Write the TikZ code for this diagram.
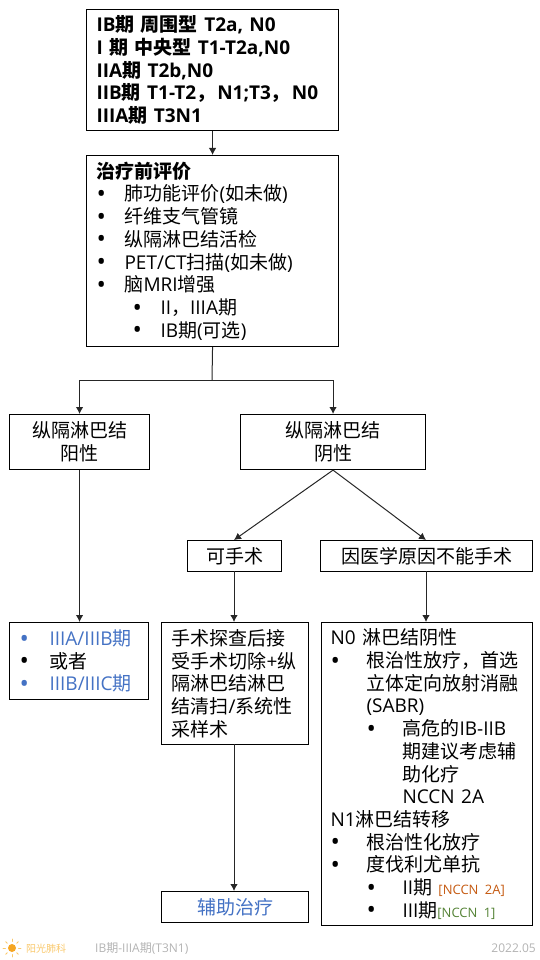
\documentclass[tikz,border=0pt]{standalone}
\usepackage{fontspec}
\setmainfont{Open Sans}
\newfontfamily\cjfont{Noto Sans CJK SC}
\newfontfamily\latfont{Open Sans}
\usetikzlibrary{arrows.meta}
\XeTeXinterchartokenstate=1
\newXeTeXintercharclass\cjclass
\newcount\cjcnt
\cjcnt="4E00
\loop\ifnum\cjcnt<"9FFF
  \XeTeXcharclass\cjcnt=\cjclass
  \advance\cjcnt by 1
\repeat
\XeTeXcharclass"FF0C=\cjclass
\XeTeXinterchartoks 0 \cjclass={\cjfont}
\XeTeXinterchartoks \cjclass 0={\latfont}
\XeTeXinterchartoks 4095 \cjclass={\cjfont}
\XeTeXinterchartoks \cjclass 4095={\latfont}
\definecolor{txtblue}{HTML}{4472C4}
\definecolor{nccnor}{HTML}{C55A11}
\definecolor{nccngr}{HTML}{548235}
\definecolor{footor}{HTML}{F9C86B}
\definecolor{sunor}{HTML}{F5A623}
\definecolor{footgr}{HTML}{B3B3B3}
\newcommand{\bigdot}{\raisebox{-1.6pt}{\fontsize{25}{25}\selectfont •}}
\newcommand{\bu}[3]{\makebox[#1pt][l]{\hspace{#2pt}\bigdot}#3}
\tikzset{
  x=1pt,y=-1pt,
  flowbox/.style={draw=black,line width=1.1pt,anchor=north west,inner sep=0pt,font=\fontsize{19}{22.7}\selectfont},
  lefttext/.style={flowbox,align=left},
  centertext/.style={flowbox,align=center},
  conn/.style={line width=1pt,draw=black!85},
  arr/.style={conn,-{Latex[length=7pt,width=7.5pt]}},
  foot/.style={inner sep=0pt,anchor=west,font=\fontsize{12}{14}\selectfont,text=footgr},
  ray/.style={line width=0.9pt,draw=footor,line cap=round}
}
\begin{document}
\begin{tikzpicture}
\useasboundingbox (0,0) rectangle (540,960);
\node[lefttext,minimum width=252pt,minimum height=121pt,text width=232pt] (stage) at (86,9)
 {\bfseries IB期 周围型 T2a, N0\\ I 期 中央型 T1-T2a,N0\\ IIA期 T2b,N0\\ IIB期 T1-T2，\kern2pt N1;T3，\kern2pt N0\\ IIIA期 T3N1};
\node[lefttext,minimum width=252pt,minimum height=191pt,text width=232pt] (eval) at (86,155)
 {\textbf{治疗前评价}\\
  \bu{28}{0}{肺功能评价(如未做)}\\
  \bu{28}{0}{纤维支气管镜}\\
  \bu{28}{0}{纵隔淋巴结活检}\\
  \bu{28}{0}{PET/CT扫描(如未做)}\\
  \bu{28}{0}{脑MRI增强}\\
  \hspace*{28pt}\bu{36}{8}{II，IIIA期}\\
  \hspace*{28pt}\bu{36}{8}{IB期(可选)}};
\node[centertext,minimum width=140pt,minimum height=55pt] (pos) at (9,414) {纵隔淋巴结\\阳性};
\node[centertext,minimum width=185pt,minimum height=55pt] (neg) at (240,414) {纵隔淋巴结\\阴性};
\node[centertext,minimum width=94pt,minimum height=31pt] (op) at (187,540) {可手术};
\node[centertext,minimum width=212pt,minimum height=31pt] (noop) at (320,540) {因医学原因不能手术};
\node[lefttext,minimum width=139pt,minimum height=77pt,text width=119pt] (iii) at (9,622)
 {{\color{txtblue}\bu{30}{0}{IIIA/IIIB期}}\\
  \bu{30}{0}{或者}\\
  {\color{txtblue}\bu{30}{0}{IIIB/IIIC期}}};
\node[lefttext,minimum width=147pt,minimum height=122pt,text width=127pt] (surg) at (161,622)
 {手术探查后接\\受手术切除+纵\\隔淋巴结淋巴\\结清扫/系统性\\采样术};
\node[lefttext,minimum width=211pt,minimum height=303pt,text width=193pt] (nonsurg) at (321,622)
 {N0 淋巴结阴性\\
  \bu{36}{0}{根治性放疗，首选}\\
  \hspace*{36pt}立体定向放射消融\\
  \hspace*{36pt}(SABR)\\
  \hspace*{36pt}\bu{36}{0}{高危的IB-IIB}\\
  \hspace*{72pt}期建议考虑辅\\
  \hspace*{72pt}助化疗\\
  \hspace*{72pt}NCCN 2A\\
  N1淋巴结转移\\
  \bu{36}{0}{根治性化放疗}\\
  \bu{36}{0}{度伐利尤单抗}\\
  \hspace*{36pt}\bu{36}{0}{II期 {\fontsize{13}{14}\selectfont\color{nccnor}[NCCN 2A]}}\\
  \hspace*{36pt}\bu{36}{0}{III期{\fontsize{13}{14}\selectfont\color{nccngr}[NCCN 1]}}};
\node[centertext,minimum width=147pt,minimum height=31pt,text=txtblue] (adj) at (161,891) {辅助治疗};
% connectors
\coordinate (jn) at (212,380);
\coordinate (opin) at (234,540);
\coordinate (noopin) at (426,540);
\coordinate (opout) at (234,571);
\coordinate (surgin) at (234,622);
\coordinate (noopout) at (426,571);
\coordinate (nsin) at (426,622);
\coordinate (surgout) at (234,744);
\coordinate (adjin) at (234,891);
\draw[arr] (stage.south) -- (eval.north);
\draw[conn] (eval.south) -- (jn);
\draw[arr] (jn) -| (pos.north);
\draw[arr] (jn) -| (neg.north);
\draw[arr] (pos.south) -- (pos.south |- iii.north);
\draw[arr] (neg.south) -- (opin);
\draw[arr] (neg.south) -- (noopin);
\draw[arr] (opout) -- (surgin);
\draw[arr] (noopout) -- (nsin);
\draw[arr] (surgout) -- (adjin);
% footer
\fill[sunor] (12,948) circle (4pt);
\foreach \a in {0,45,...,315}{\draw[ray] (12,948)++(\a:6.5) -- ++(\a:2.5);}
\node[foot,text=footor,font=\fontsize{10}{12}\selectfont] (brand) at (26,949) {阳光肺科};
\node[foot] (topic) at (95,948) {IB期-IIIA期(T3N1)};
\node[foot,anchor=east] (date) at (536,948) {2022.05};
\end{tikzpicture}
\end{document}
